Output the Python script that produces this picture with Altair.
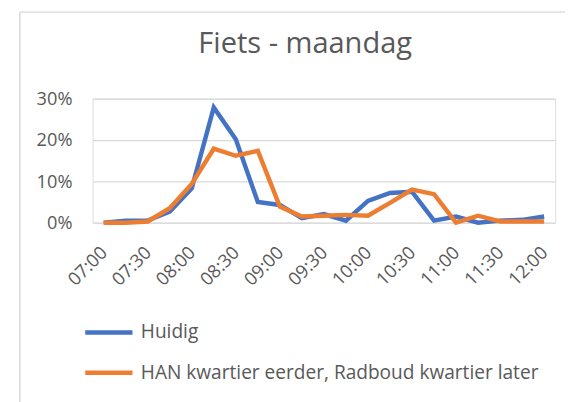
import altair as alt
import pandas as pd

times = ["07:00", "07:15", "07:30", "07:45", "08:00", "08:15", "08:30", "08:45",
         "09:00", "09:15", "09:30", "09:45", "10:00", "10:15", "10:30", "10:45",
         "11:00", "11:15", "11:30", "11:45", "12:00"]
huidig = [0, 0.5, 0.5, 2.7, 8.3, 27.9, 20.2, 5.0, 4.3, 1.1, 2.1, 0.5, 5.3, 7.2,
          7.5, 0.5, 1.5, 0.0, 0.5, 0.7, 1.5]
han = [0, 0, 0.3, 3.5, 9.4, 17.9, 16.2, 17.4, 3.9, 1.5, 1.7, 1.9, 1.7, 4.8,
       8.0, 6.9, 0.0, 1.7, 0.3, 0.3, 0.3]
series = ["Huidig", "HAN kwartier eerder, Radboud kwartier later"]
colors = ["#4472C4", "#ED7D31"]
tick_labels = ["07:00", "07:30", "08:00", "08:30", "09:00", "09:30", "10:00",
               "10:30", "11:00", "11:30", "12:00"]

rows = []
for s, vals in zip(series, [huidig, han]):
    for t, v in zip(times, vals):
        rows.append({"tijd": t, "waarde": v / 100.0, "serie": s})
df = pd.DataFrame(rows)

FONT = "Open Sans"
GREY = "#595959"

x_enc = alt.X("tijd:O", sort=times,
              scale=alt.Scale(type="point", padding=0.5),
              axis=alt.Axis(values=tick_labels, labelAngle=-45, labelAlign="right",
                            labelBaseline="middle", labelPadding=27, ticks=False,
                            domain=False, title=None, labelFontSize=18.5,
                            labelColor=GREY, labelFont=FONT))
y_enc = alt.Y("waarde:Q", scale=alt.Scale(domain=[0, 0.3], nice=False),
              axis=alt.Axis(values=[0, 0.1, 0.2, 0.3], format=".0%", ticks=False,
                            domain=False, title=None, labelFontSize=18.5,
                            labelColor=GREY, labelFont=FONT, labelPadding=21,
                            gridColor="#D9D9D9", gridWidth=1.3))
color_enc = alt.Color("serie:N", scale=alt.Scale(domain=series, range=colors),
                      legend=alt.Legend(title=None, orient="none", legendX=-10,
                                        legendY=211, direction="vertical",
                                        symbolType="stroke", symbolSize=2304,
                                        symbolStrokeWidth=4.5, labelFontSize=19.4,
                                        labelColor=GREY, labelFont=FONT,
                                        labelOffset=6, rowPadding=5, labelLimit=0))

base = alt.Chart(df).encode(x=x_enc, y=y_enc, color=color_enc)
blue = base.transform_filter(alt.datum.serie == series[0]).mark_line(strokeWidth=4.5)
orange = base.transform_filter(alt.datum.serie == series[1]).mark_line(strokeWidth=4.5)

frame = alt.Data(values=[{"a": 1}])
left_border = alt.Chart(frame).mark_rule(color="#D9D9D9", strokeWidth=1.5).encode(
    x=alt.value(-74), y=alt.value(-88), y2=alt.value(400))
top_border = alt.Chart(frame).mark_rule(color="#D9D9D9", strokeWidth=1.5).encode(
    x=alt.value(-74), x2=alt.value(520), y=alt.value(-88))

chart = alt.layer(left_border, top_border, blue, orange).properties(
    width=470, height=126,
    autosize=alt.AutoSizeParams(type="none"),
    padding={"left": 86, "top": 89, "right": 10, "bottom": 180},
    title=alt.TitleParams("Fiets - maandag", fontSize=29.5, font=FONT, color=GREY,
                          fontWeight="normal", anchor="middle", dx=-19,
                          offset=0, dy=72, baseline="alphabetic"),
).configure_view(stroke=None).configure(background="white")

chart.save("out.html", embed_options={"renderer": "svg", "actions": False})
